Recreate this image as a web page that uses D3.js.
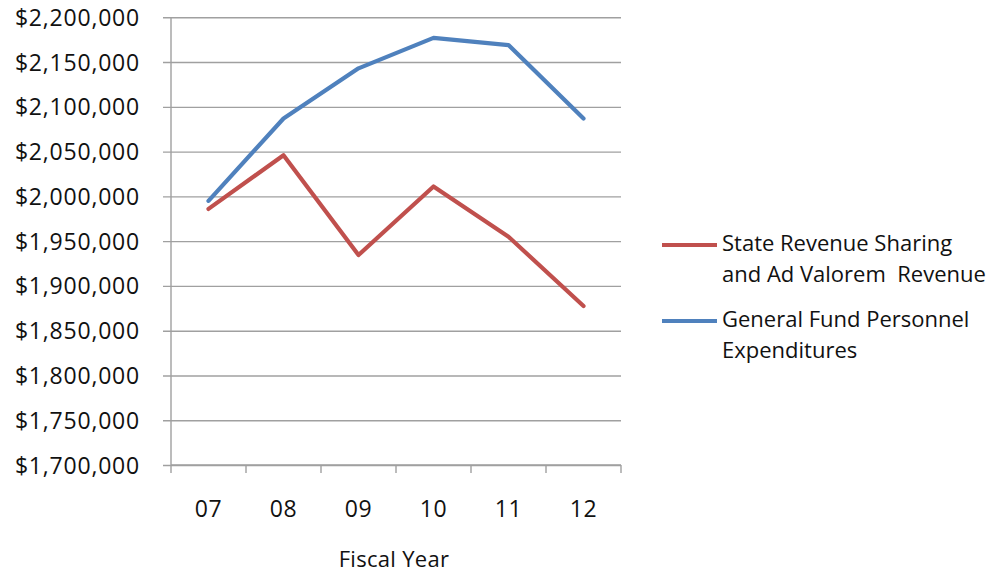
<!DOCTYPE html>
<html>
<head>
<meta charset="utf-8">
<script src="https://cdn.jsdelivr.net/npm/d3@7"></script>
<style>
  html, body { margin: 0; padding: 0; background: #fff; }
  svg { display: block; font-family: "Open Sans", sans-serif; }
</style>
</head>
<body>
<svg id="chart" width="987" height="575"></svg>
<script>
// Fiscal years on the category axis
const years = ["07", "08", "09", "10", "11", "12"];

// State Revenue Sharing and Ad Valorem Revenue
const revenue = [1986000, 2046000, 1934500, 2011000, 1955000, 1877500];

// General Fund Personnel Expenditures
const personnel = [1995000, 2087000, 2143000, 2177000, 2169000, 2087000];

// Value-axis ticks
const yTicks = [1700000, 1750000, 1800000, 1850000, 1900000, 1950000,
                2000000, 2050000, 2100000, 2150000, 2200000];

const seriesNames = ["State Revenue Sharing\nand Ad Valorem  Revenue",
                     "General Fund Personnel\nExpenditures"];
const seriesColors = ["#C0504D", "#4F81BD"];

const svg = d3.select("#chart");
const plotLeft = 171, plotRight = 621, plotTop = 17.3, plotBottom = 465;

const x = d3.scaleBand().domain(years).range([plotLeft, plotRight]).padding(0);
const y = d3.scaleLinear().domain([1700000, 2200000]).range([plotBottom, plotTop]);

const gridColor = "#A0A0A0";
const fmt = v => "$" + d3.format(",")(v);

// Horizontal gridlines with small outward ticks on the value axis
const yAxis = d3.axisLeft(y)
  .tickValues(yTicks)
  .tickFormat(fmt)
  .tickSizeInner(-(plotRight - plotLeft))
  .tickSizeOuter(0)
  .tickPadding(0);

const gy = svg.append("g").attr("transform", `translate(${plotLeft},0)`).call(yAxis);
gy.select(".domain").remove();
gy.attr("font-family", null).attr("font-size", null);
gy.selectAll(".tick line")
  .attr("x1", -8)
  .attr("stroke", gridColor)
  .attr("stroke-width", 1.4);
gy.selectAll(".tick text")
  .attr("x", -31)
  .attr("dy", "8px")
  .attr("fill", "#111")
  .style("font-size", "23px")
  .style("letter-spacing", "0.8px");

// Vertical value axis line
svg.append("line")
  .attr("x1", plotLeft).attr("x2", plotLeft)
  .attr("y1", plotTop).attr("y2", plotBottom)
  .attr("stroke", gridColor).attr("stroke-width", 1.4);

// Category axis: line plus ticks at band boundaries
svg.append("line")
  .attr("x1", plotLeft).attr("x2", plotRight)
  .attr("y1", plotBottom).attr("y2", plotBottom)
  .attr("stroke", gridColor).attr("stroke-width", 1.4);

const bounds = years.map(d => x(d)).concat([x(years[years.length - 1]) + x.bandwidth()]);
svg.append("g").selectAll("line").data(bounds).join("line")
  .attr("x1", d => d).attr("x2", d => d)
  .attr("y1", plotBottom).attr("y2", plotBottom + 8)
  .attr("stroke", gridColor).attr("stroke-width", 1.4);

svg.append("g").selectAll("text").data(years).join("text")
  .attr("x", d => x(d) + x.bandwidth() / 2)
  .attr("y", 517)
  .attr("text-anchor", "middle")
  .attr("fill", "#111")
  .style("font-size", "23px")
  .style("letter-spacing", "0.6px")
  .text(d => d);

// Axis title
svg.append("text")
  .attr("x", (plotLeft + plotRight) / 2 - 2)
  .attr("y", 567)
  .attr("text-anchor", "middle")
  .attr("fill", "#111")
  .style("font-size", "22px")
  .style("letter-spacing", "0.3px")
  .text("Fiscal Year");

// Series lines
const line = d3.line()
  .x((d, i) => x(years[i]) + x.bandwidth() / 2)
  .y(d => y(d));

[revenue, personnel].forEach((vals, k) => {
  svg.append("path")
    .datum(vals)
    .attr("fill", "none")
    .attr("stroke", seriesColors[k])
    .attr("stroke-width", 4.2)
    .attr("stroke-linejoin", "round")
    .attr("stroke-linecap", "round")
    .attr("d", line);
});

// Legend
const legendRows = [245, 321];
seriesNames.forEach((name, k) => {
  const ly = legendRows[k];
  svg.append("line")
    .attr("x1", 662).attr("x2", 717)
    .attr("y1", ly).attr("y2", ly)
    .attr("stroke", seriesColors[k])
    .attr("stroke-width", 4.2);
  const t = svg.append("text")
    .attr("fill", "#111")
    .style("font-size", "22px")
    .style("white-space", "pre");
  name.split("\n").forEach((part, j) => {
    t.append("tspan")
      .attr("x", 722)
      .attr("y", ly + 6 + j * 31)
      .text(part);
  });
});
</script>
</body>
</html>
